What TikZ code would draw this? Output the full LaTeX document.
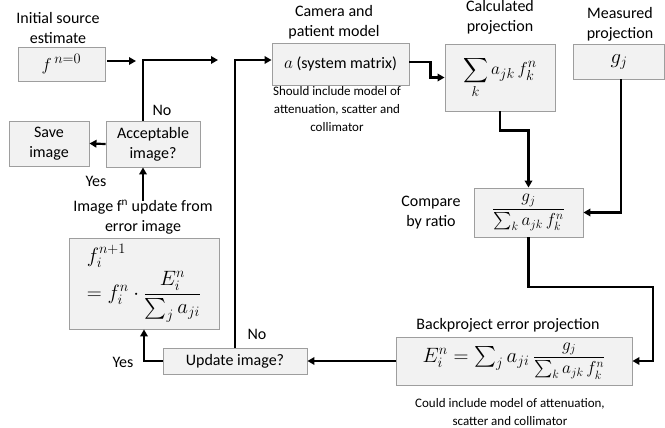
\documentclass[tikz,border=0pt]{standalone}
\usepackage{amsmath}
\usepackage{fontspec}
\setmainfont{Carlito}
\usetikzlibrary{arrows.meta,calc}

\tikzset{
  box/.style={draw=black!38, line width=0.9pt, fill=black!5, inner sep=0pt, align=center,
              font=\fontsize{16}{20}\selectfont},
  lbl/.style={align=center, inner sep=0pt, font=\fontsize{16}{20}\selectfont},
  note/.style={align=center, inner sep=0pt, font=\fontsize{13}{18}\selectfont},
  flow/.style={line width=2.2pt, -{Triangle[length=7pt,width=7.5pt]}}
}
\newcommand{\bigmath}{\fontsize{19}{22}\selectfont}
% ratio g_j / sum_k a_jk f_k^n, set as a display fraction at a chosen size
\newcommand{\ratiofrac}[1]{\mbox{\fontsize{#1}{#1}\selectfont$\dfrac{g_j}{\sum_k a_{jk}\, f_k^n}$}}

\begin{document}
\begin{tikzpicture}[x=1pt,y=-1pt]
\useasboundingbox (0,0) rectangle (665,428);

% ---- boxes ----
\node[box, minimum width=87pt, minimum height=34pt] (f0) at (61.5,64) {\bigmath$f^{\,n=0}$};
\node[box, minimum width=80pt, minimum height=45pt] (save) at (49,143.5) {Save\\image};
\node[box, minimum width=94pt, minimum height=46pt] (accept) at (153,144) {Acceptable\\image?};
\node[box, minimum width=150pt, minimum height=91pt] (upd) at (144,283.5)
  {\begin{tabular}{@{}l@{}}\fontsize{20.5}{23}\selectfont$f_i^{n+1}$\\[3pt]
   \fontsize{20.5}{23}\selectfont$=f_i^n\cdot\dfrac{E_i^n}{\sum_j a_{ji}}$\end{tabular}};
\node[box, minimum width=144pt, minimum height=26pt] (updq) at (235,361) {Update image?};
\node[box, minimum width=137pt, minimum height=42pt] (amat) at (340.5,64)
  {{\bigmath$a$} (system matrix)};
\node[box, minimum width=110pt, minimum height=67pt] (sum) at (500,77.5)
  {\bigmath$\displaystyle\sum_k a_{jk}\, f_k^n$};
\node[box, minimum width=91pt, minimum height=35pt] (gj) at (619,61.5)
  {\fontsize{21}{24}\selectfont$g_j$};
\node[box, minimum width=109pt, minimum height=49pt] (cmp) at (528.5,212.5)
  {\ratiofrac{17}};
\node[box, minimum width=236pt, minimum height=48pt] (bp) at (514,361)
  {\fontsize{20}{22}\selectfont$E_i^n=\sum_j a_{ji}\,$\ratiofrac{16.5}};

% ---- captions ----
\node[lbl] (tInit) at (58,28) {Initial source\\estimate};
\node[lbl] (tCam) at (334,22) {Camera and\\patient model};
\node[note] (tShould) at (337,109) {Should include model of\\attenuation, scatter and\\collimator};
\node[lbl] (tCalc) at (500,17) {Calculated\\projection};
\node[lbl] (tMeas) at (620,24) {Measured\\projection};
\node[lbl] (tCmp) at (431,213) {Compare\\by ratio};
\node[lbl] (tBp) at (508,325) {Backproject error projection};
\node[note] (tCould) at (510,412) {Could include model of attenuation,\\scatter and collimator};
\node[lbl] (tUpd) at (143,217) {Image f\textsuperscript{n} update from\\error image};
\node[lbl] (tNo1) at (162,110) {No};
\node[lbl] (tYes1) at (96,181) {Yes};
\node[lbl] (tYes2) at (123,362) {Yes};
\node[lbl] (tNo2) at (257,334) {No};

% ---- junction points ----
\coordinate (j1) at (136,61);
\coordinate (j2) at (218,60);
\coordinate (j3) at (653,287);

% ---- connectors ----
\draw[flow] ([yshift=3pt]f0.east) ++(2,0) -- (j1);
\draw[flow] ([xshift=-10pt]accept.north) |- (j2);
\draw[flow] (accept.west) -- (save.east);
\draw[flow] ([yshift=-1pt]tUpd.north) -- (tUpd.north |- accept.south);
\draw[flow] (updq.west) -| (upd.south);
\draw[flow] (updq.north) |- ([yshift=4pt]amat.west);
\draw[flow] ([yshift=2pt]amat.east) -- ++(21,0) |- (sum.west);
\draw[flow] (sum.south) -- ++(0,19) -| (cmp.north);
\draw[flow] ([xshift=2pt]gj.south) |- (cmp.east);
\draw[flow] (cmp.south) |- (j3) |- (bp.east);
\draw[flow] (bp.west) -- (updq.east);
\end{tikzpicture}
\end{document}
